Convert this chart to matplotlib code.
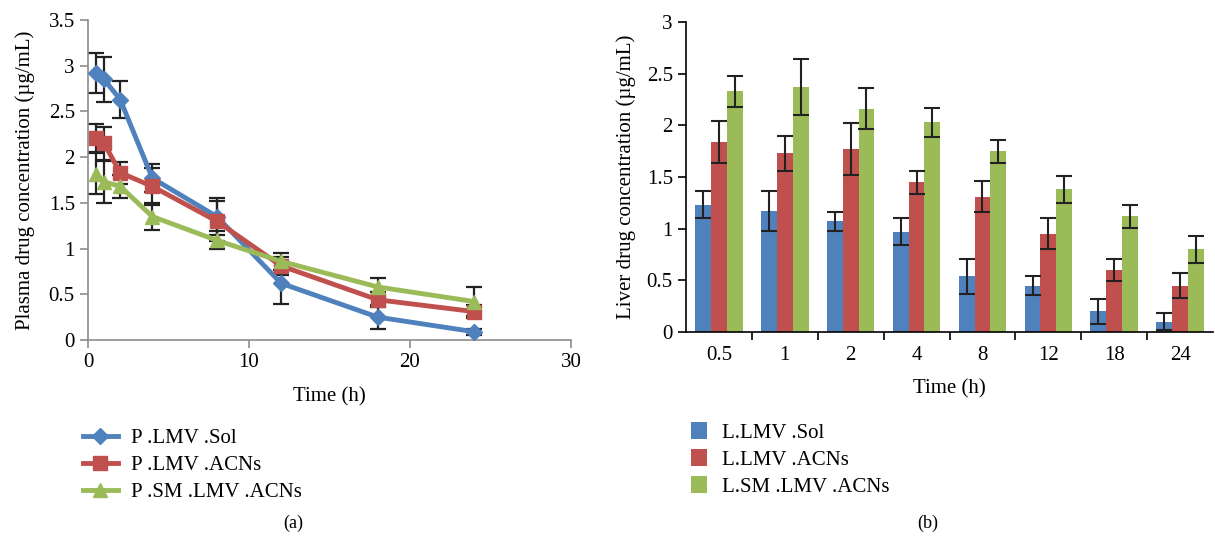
import matplotlib.pyplot as plt
import numpy as np

plt.rcParams['font.family'] = ['Liberation Serif', 'DejaVu Serif']
plt.rcParams['font.size'] = 15

# (a) plasma concentration
time_h = [0.5, 1, 2, 4, 8, 12, 18, 24]
p_sol = [2.92, 2.85, 2.63, 1.77, 1.35, 0.62, 0.25, 0.09]
p_sol_err = [0.22, 0.25, 0.20, 0.15, 0.20, 0.23, 0.13, 0.03]
p_acn = [2.21, 2.15, 1.83, 1.68, 1.30, 0.81, 0.44, 0.31]
p_acn_err = [0.15, 0.18, 0.12, 0.20, 0.22, 0.10, 0.08, 0.07]
p_sm = [1.82, 1.73, 1.68, 1.35, 1.09, 0.86, 0.58, 0.42]
p_sm_err = [0.22, 0.23, 0.13, 0.15, 0.10, 0.09, 0.10, 0.16]

# (b) liver concentration
groups = ['0.5', '1', '2', '4', '8', '12', '18', '24']
l_sol = [1.23, 1.17, 1.07, 0.97, 0.54, 0.45, 0.20, 0.10]
l_sol_err = [0.13, 0.19, 0.09, 0.13, 0.17, 0.09, 0.12, 0.08]
l_acn = [1.84, 1.73, 1.77, 1.45, 1.31, 0.95, 0.60, 0.45]
l_acn_err = [0.20, 0.17, 0.25, 0.11, 0.15, 0.15, 0.11, 0.12]
l_sm = [2.33, 2.37, 2.16, 2.03, 1.75, 1.38, 1.12, 0.80]
l_sm_err = [0.15, 0.27, 0.20, 0.14, 0.11, 0.13, 0.11, 0.13]

blue = '#4F81BD'
red = '#C0504D'
green = '#9BBB59'

fig = plt.figure(figsize=(12.15, 5.39), dpi=100)

# ---- left panel
ax1 = fig.add_axes([88/1215, 1 - 340/539, (571-88)/1215, (340-20)/539])
series = [(p_sol, p_sol_err, blue, 'D', 'P .LMV .Sol', 8),
          (p_acn, p_acn_err, red, 's', 'P .LMV .ACNs', 10),
          (p_sm, p_sm_err, green, '^', 'P .SM .LMV .ACNs', 10)]
handles = []
for vals, err, col, mk, lab, ms in series:
    ax1.errorbar(time_h, vals, yerr=err, fmt='none', ecolor='#222222',
                 elinewidth=1.6, capsize=6, capthick=1.6, zorder=2)
    h, = ax1.plot(time_h, vals, color=col, lw=3.5, marker=mk, ms=ms,
                  label=lab, zorder=3, solid_joinstyle='round')
    handles.append(h)

ax1.set_xlim(0, 30)
ax1.set_ylim(0, 3.5)
ax1.set_xticks([0, 10, 20, 30])
ax1.set_yticks(np.arange(0, 3.51, 0.5))
ax1.set_yticklabels(['0', '0.5', '1', '1.5', '2', '2.5', '3', '3.5'])
for s in ['top', 'right']:
    ax1.spines[s].set_visible(False)
for s in ['left', 'bottom']:
    ax1.spines[s].set_color('#8c8c8c')
    ax1.spines[s].set_linewidth(1.2)
ax1.tick_params(color='#8c8c8c', length=6, width=1.2)
ax1.set_xlabel('Time (h)', labelpad=11)
ax1.set_ylabel('Plasma drug concentration (µg/mL)', labelpad=10)
fig.legend(handles=handles, loc='upper left', bbox_to_anchor=(64/1215, 1 - 410/539),
           frameon=False, handlelength=1.7, handletextpad=0.6, labelspacing=0.35)

# ---- right panel
ax2 = fig.add_axes([686/1215, 1 - 332/539, (1213-686)/1215, (332-22)/539])
x = np.arange(len(groups))
w = 0.24
bar_series = [(l_sol, l_sol_err, blue, 'L.LMV .Sol', -w),
              (l_acn, l_acn_err, red, 'L.LMV .ACNs', 0),
              (l_sm, l_sm_err, green, 'L.SM .LMV .ACNs', w)]
bhandles = []
for vals, err, col, lab, off in bar_series:
    b = ax2.bar(x + off, vals, w, color=col, label=lab, zorder=2)
    ax2.errorbar(x + off, vals, yerr=err, fmt='none', ecolor='#222222',
                 elinewidth=1.5, capsize=5.5, capthick=1.5, zorder=3)
    bhandles.append(b)

ax2.set_xlim(-0.5, len(groups) - 0.5)
ax2.set_ylim(0, 3)
ax2.set_xticks(x)
ax2.set_xticklabels(groups)
ax2.set_xticks(np.arange(0.5, len(groups) - 0.5, 1), minor=True)
ax2.tick_params(axis='x', which='major', length=0, pad=10)
ax2.tick_params(axis='x', which='minor', length=6, width=1.2)
ax2.set_yticks(np.arange(0, 3.01, 0.5))
ax2.set_yticklabels(['0', '0.5', '1', '1.5', '2', '2.5', '3'])
ax2.tick_params(axis='y', length=6, width=1.2)
for s in ['top', 'right']:
    ax2.spines[s].set_visible(False)
for s in ['left', 'bottom']:
    ax2.spines[s].set_linewidth(1.2)
ax2.set_xlabel('Time (h)', labelpad=10)
ax2.set_ylabel('Liver drug concentration (µg/mL)', labelpad=8)
fig.legend(handles=bhandles, loc='upper left', bbox_to_anchor=(672/1215, 1 - 403/539),
           frameon=False, handlelength=0.8, handleheight=0.9, handletextpad=0.7,
           labelspacing=0.3)

fig.text(293/1215, 1 - 523/539, '(a)', ha='center', va='center', fontsize=13)
fig.text(928/1215, 1 - 523/539, '(b)', ha='center', va='center', fontsize=13)

fig.savefig('out.png', dpi=100)
